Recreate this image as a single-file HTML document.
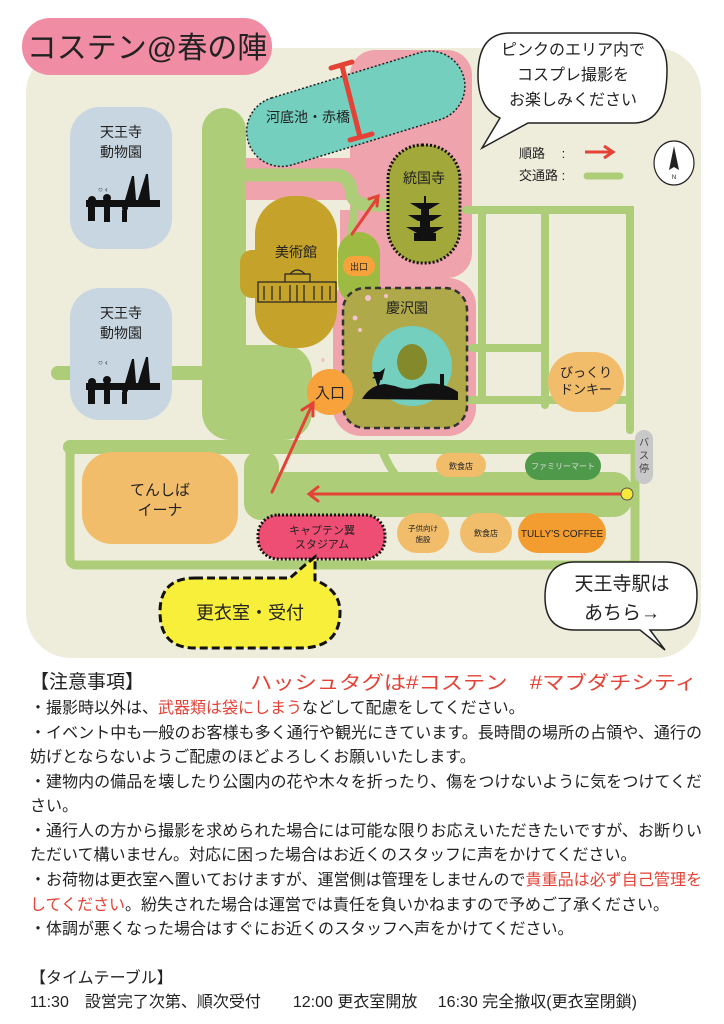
<!DOCTYPE html>
<html><head><meta charset="utf-8"><style>
html,body{margin:0;padding:0;background:#fff;}
svg{display:block;font-family:"Liberation Sans","Noto Sans CJK JP",sans-serif;}
</style></head><body>
<svg width="724" height="1024" viewBox="0 0 724 1024" xmlns="http://www.w3.org/2000/svg">
<rect x="26" y="48" width="675" height="610" rx="45" fill="#eeeddb"/>
<!-- title -->
<rect x="22" y="18" width="250" height="57" rx="28" fill="#f08ca4"/>
<text x="147" y="58" font-size="30" text-anchor="middle" fill="#222">コステン@春の陣</text>

<!-- pink areas -->
<rect x="350" y="50" width="122" height="228" rx="25" fill="#efa3ac"/>
<rect x="245" y="158" width="130" height="42" fill="#efa3ac"/>
<rect x="333" y="278" width="143" height="158" rx="28" fill="#efa3ac"/>
<rect x="340" y="210" width="40" height="80" fill="#efa3ac"/>

<!-- green roads -->
<g fill="none" stroke="#adcd78" stroke-linecap="round">
<path d="M245 175 H335 Q350 175 352 195 Q355 205 370 205 H385" stroke-width="13"/>
<path d="M355 205 L350 240" stroke-width="8"/>
<path d="M466 210 H630 V370 M482 210 V400 M472 348 H540 M545 210 V405 M470 400 H630 M630 370 V430" stroke-width="8"/>
<path d="M58 373 H205" stroke-width="14"/>
<rect x="70" y="445" width="565" height="120" rx="6" stroke-width="9"/>
<path d="M70 447 H636" stroke-width="14"/>
<path d="M382 450 Q390 470 400 480" stroke-width="8"/>
</g>
<rect x="202" y="108" width="44" height="300" rx="22" fill="#adcd78"/>
<rect x="202" y="345" width="110" height="95" rx="28" fill="#adcd78"/>
<rect x="244" y="450" width="35" height="70" rx="17" fill="#adcd78"/>
<rect x="244" y="472" width="388" height="45" rx="18" fill="#adcd78"/>

<!-- pond -->
<g transform="rotate(-17 355 108)">
<rect x="243" y="74" width="225" height="70" rx="35" fill="#74cfbf" stroke="#222" stroke-width="1.5" stroke-dasharray="2 2"/>
</g>
<text x="308" y="122" font-size="14" text-anchor="middle" fill="#222">河底池・赤橋</text>
<g stroke="#e44236" stroke-width="5" stroke-linecap="round">
<line x1="342" y1="66" x2="360" y2="137"/>
<line x1="331" y1="68" x2="352" y2="62"/>
<line x1="350" y1="140" x2="372" y2="134"/>
</g>

<!-- zoo -->
<g>
<rect x="70" y="107" width="102" height="142" rx="30" fill="#c8d6e1"/>
<text x="121" y="137" font-size="14" text-anchor="middle" fill="#222">天王寺</text>
<text x="121" y="157" font-size="14" text-anchor="middle" fill="#222">動物園</text>
<g fill="#111"><rect x="86" y="200" width="74" height="7"/><path d="M125 200 L132 176 L134 176 L136 200Z M138 200 L146 174 L148 174 L150 200Z"/><circle cx="92" cy="200" r="4"/><rect x="88" y="203" width="7" height="18"/><circle cx="107" cy="198" r="4"/><rect x="104" y="202" width="6" height="20"/><circle cx="125" cy="208" r="3"/><rect x="122" y="210" width="5" height="12"/></g>
<text x="98" y="192" font-size="8" fill="#222">○ ‹</text>
</g>
<g>
<rect x="70" y="288" width="102" height="132" rx="30" fill="#c8d6e1"/>
<text x="121" y="318" font-size="14" text-anchor="middle" fill="#222">天王寺</text>
<text x="121" y="338" font-size="14" text-anchor="middle" fill="#222">動物園</text>
<g fill="#111"><rect x="86" y="383" width="74" height="7"/><path d="M125 383 L132 359 L134 359 L136 383Z M138 383 L146 357 L148 357 L150 383Z"/><circle cx="92" cy="382" r="4"/><rect x="88" y="386" width="7" height="18"/><circle cx="107" cy="380" r="4"/><rect x="104" y="384" width="6" height="20"/><circle cx="125" cy="390" r="3"/><rect x="122" y="392" width="5" height="12"/></g>
<text x="98" y="365" font-size="8" fill="#222">○ ‹</text>
</g>

<!-- museum -->
<rect x="255" y="196" width="82" height="152" rx="38" fill="#c5a22a"/>
<rect x="240" y="250" width="30" height="48" rx="12" fill="#c5a22a"/>
<text x="296" y="257" font-size="14" text-anchor="middle" fill="#222">美術館</text>
<g fill="none" stroke="#222" stroke-width="1.2"><rect x="258" y="282" width="78" height="20"/><path d="M285 282 V274 H310 V282 M290 274 Q297 266 305 274"/><path d="M264 286 V300 M272 286 V300 M280 286 V300 M314 286 V300 M322 286 V300 M330 286 V300 M290 285 V302 M297 285 V302 M304 285 V302"/></g>

<!-- 統国寺 -->
<rect x="388" y="145" width="72" height="118" rx="34" fill="#a3a83a" stroke="#111" stroke-width="3" stroke-dasharray="2 2"/>
<text x="424" y="183" font-size="14" text-anchor="middle" fill="#222">統国寺</text>
<g fill="#111"><path d="M410 203 H440 L430 209 H420Z M408 215 H442 L432 221 H418Z M406 227 H444 L433 233 H417Z"/><rect x="421" y="209" width="8" height="6"/><rect x="420" y="221" width="10" height="6"/><rect x="414" y="233" width="22" height="8"/><rect x="424" y="196" width="2" height="8"/></g>

<!-- 出口 -->
<rect x="338" y="232" width="42" height="72" rx="21" fill="#9dbb43"/>
<rect x="343" y="256" width="32" height="20" rx="10" fill="#f7a23b"/>
<text x="359" y="270" font-size="9" text-anchor="middle" fill="#222">出口</text>

<!-- 慶沢園 -->
<rect x="343" y="288" width="124" height="140" rx="22" fill="#b0a94a" stroke="#333" stroke-width="2.5" stroke-dasharray="6 4"/>
<text x="407" y="313" font-size="14" text-anchor="middle" fill="#222">慶沢園</text>
<circle cx="412" cy="366" r="40" fill="#74cfbf"/>
<ellipse cx="412" cy="362" rx="15" ry="18" fill="#848a2b"/>
<path d="M362 399 Q370 385 385 384 L395 386 Q410 392 420 385 Q440 380 458 392 L458 400 Z" fill="#111"/>
<path d="M378 388 L373 372 L383 372 Z M372 378 L385 368 L382 380Z" fill="#111"/>
<rect x="440" y="374" width="4" height="14" fill="#111"/>
<g fill="#f4c3cf"><circle cx="368" cy="298" r="3"/><circle cx="355" cy="318" r="2.5"/><circle cx="360" cy="330" r="2"/><circle cx="386" cy="296" r="2"/><circle cx="323" cy="360" r="2"/></g>

<!-- 入口 -->
<circle cx="330" cy="392" r="23" fill="#f7a23b"/>
<text x="330" y="398" font-size="15" text-anchor="middle" fill="#222">入口</text>

<!-- びっくりドンキー -->
<rect x="548" y="352" width="76" height="60" rx="30" fill="#f2bd6a"/>
<text x="586" y="377" font-size="13" text-anchor="middle" fill="#222">びっくり</text>
<text x="586" y="394" font-size="13" text-anchor="middle" fill="#222">ドンキー</text>

<!-- bus stop -->
<rect x="635" y="430" width="18" height="54" rx="9" fill="#c8c8c8"/>
<text x="644" y="446" font-size="10" text-anchor="middle" fill="#444">バ</text>
<text x="644" y="459" font-size="10" text-anchor="middle" fill="#444">ス</text>
<text x="644" y="472" font-size="10" text-anchor="middle" fill="#444">停</text>

<!-- てんしば -->
<rect x="82" y="452" width="156" height="92" rx="30" fill="#f2bd6a"/>
<text x="160" y="495" font-size="15" text-anchor="middle" fill="#222">てんしば</text>
<text x="160" y="515" font-size="15" text-anchor="middle" fill="#222">イーナ</text>

<rect x="436" y="453" width="50" height="24" rx="12" fill="#f2bd6a"/>
<text x="461" y="469" font-size="8" text-anchor="middle" fill="#222">飲食店</text>
<rect x="525" y="452" width="76" height="28" rx="14" fill="#4e9a4a"/>
<text x="563" y="469" font-size="8" text-anchor="middle" fill="#ddd">ファミリーマート</text>

<!-- arrows -->
<g stroke="#e44236" stroke-width="3" fill="none" stroke-linecap="round">
<line x1="625" y1="494" x2="310" y2="494"/>
<path d="M318 487 L309 494 L318 501"/>
<line x1="272" y1="492" x2="312" y2="405"/>
<path d="M302 410 L313 403 L313 416"/>
<line x1="352" y1="234" x2="378" y2="197"/>
<path d="M369 199 L378 196 L377 206"/>
</g>
<circle cx="627" cy="494" r="6" fill="#f5ea3c" stroke="#555" stroke-width="1"/>

<!-- bottom row -->
<rect x="258" y="515" width="127" height="44" rx="20" fill="#ee4e74" stroke="#111" stroke-width="3" stroke-dasharray="2 2"/>
<text x="322" y="534" font-size="11" text-anchor="middle" fill="#222">キャプテン翼</text>
<text x="322" y="548" font-size="11" text-anchor="middle" fill="#222">スタジアム</text>
<rect x="397" y="513" width="52" height="40" rx="20" fill="#f2bd6a"/>
<text x="423" y="531" font-size="7.5" text-anchor="middle" fill="#222">子供向け</text>
<text x="423" y="542" font-size="7.5" text-anchor="middle" fill="#222">施設</text>
<rect x="460" y="513" width="52" height="40" rx="20" fill="#f2bd6a"/>
<text x="486" y="536" font-size="8" text-anchor="middle" fill="#222">飲食店</text>
<rect x="518" y="513" width="88" height="40" rx="20" fill="#f39c30"/>
<text x="562" y="537" font-size="10" text-anchor="middle" fill="#222">TULLY'S COFFEE</text>

<!-- yellow bubble -->
<path d="M195 578 H290 L305 565 L315 557 L315 580 Q340 590 340 612 Q340 648 300 648 H195 Q160 648 160 612 Q160 578 195 578Z" fill="#f8ef3a" stroke="#111" stroke-width="3" stroke-dasharray="8 4"/>
<text x="250" y="619" font-size="18" text-anchor="middle" fill="#222">更衣室・受付</text>

<!-- station bubble -->
<path d="M575 562 H665 Q697 562 697 595 Q697 630 665 630 H650 L665 650 L640 630 H575 Q545 630 545 597 Q545 562 575 562Z" fill="#fff" stroke="#222" stroke-width="1.5"/>
<text x="622" y="590" font-size="19" text-anchor="middle" fill="#222">天王寺駅は</text>
<text x="622" y="619" font-size="19" text-anchor="middle" fill="#222">あちら→</text>

<!-- top-right bubble -->
<path d="M510 33 H633 Q667 33 667 70 Q667 123 633 123 H528 L482 148 L500 118 Q478 108 478 75 Q478 33 510 33Z" fill="#fff" stroke="#222" stroke-width="1.5"/>
<text x="573" y="55" font-size="16" text-anchor="middle" fill="#222">ピンクのエリア内で</text>
<text x="573" y="80" font-size="16" text-anchor="middle" fill="#222">コスプレ撮影を</text>
<text x="573" y="105" font-size="16" text-anchor="middle" fill="#222">お楽しみください</text>

<!-- legend -->
<text x="519" y="158" font-size="13" fill="#222">順路　 :</text>
<line x1="585" y1="152" x2="612" y2="152" stroke="#e44236" stroke-width="3"/>
<path d="M604 146 L613 152 L604 158" fill="none" stroke="#e44236" stroke-width="3"/>
<text x="519" y="180" font-size="13" fill="#222">交通路 :</text>
<line x1="587" y1="176" x2="620" y2="176" stroke="#adcd78" stroke-width="7" stroke-linecap="round"/>
<ellipse cx="674" cy="163" rx="20" ry="22" fill="#fff" stroke="#222" stroke-width="1.2"/>
<path d="M674 146 L669 170 L674 167 L679 170Z" fill="#222"/>
<text x="674" y="179" font-size="6" text-anchor="middle" fill="#222">N</text>

<!-- notes -->
<g font-size="16" fill="#222">
<text x="30" y="688" font-size="19">【注意事項】</text>
<text x="250" y="689" font-size="19" fill="#e44236" textLength="447" lengthAdjust="spacingAndGlyphs">ハッシュタグは#コステン　#マブダチシティ</text>
<text x="30" y="713">・撮影時以外は、<tspan fill="#e44236">武器類は袋にしまう</tspan>などして配慮をしてください。</text>
<text x="30" y="738" textLength="672">・イベント中も一般のお客様も多く通行や観光にきています。長時間の場所の占領や、通行の</text>
<text x="30" y="762">妨げとならないようご配慮のほどよろしくお願いいたします。</text>
<text x="30" y="787" textLength="672">・建物内の備品を壊したり公園内の花や木々を折ったり、傷をつけないように気をつけてくだ</text>
<text x="30" y="811">さい。</text>
<text x="30" y="836" textLength="672">・通行人の方から撮影を求められた場合には可能な限りお応えいただきたいですが、お断りい</text>
<text x="30" y="860">ただいて構いません。対応に困った場合はお近くのスタッフに声をかけてください。</text>
<text x="30" y="885" textLength="672">・お荷物は更衣室へ置いておけますが、運営側は管理をしませんので<tspan fill="#e44236">貴重品は必ず自己管理を</tspan></text>
<text x="30" y="910"><tspan fill="#e44236">してください</tspan>。紛失された場合は運営では責任を負いかねますので予めご了承ください。</text>
<text x="30" y="934">・体調が悪くなった場合はすぐにお近くのスタッフへ声をかけてください。</text>
<text x="30" y="983">【タイムテーブル】</text>
<text x="30" y="1007">11:30　設営完了次第、順次受付　　12:00 更衣室開放　 16:30 完全撤収(更衣室閉鎖)</text>
</g>
</svg>
</body></html>
